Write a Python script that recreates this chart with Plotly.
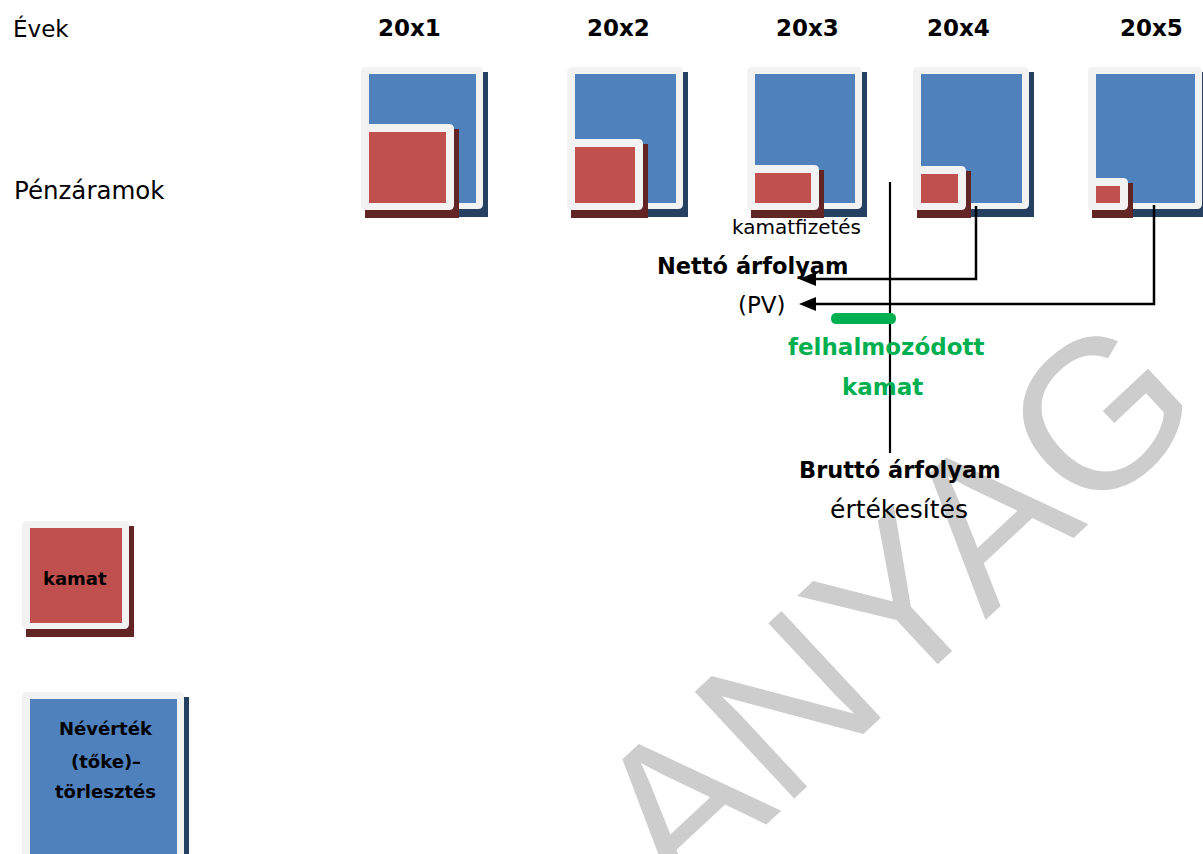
import plotly.graph_objects as go

# Years of the bond's life and the relative size of the interest payment
# drawn in each year's cash-flow box (frame width / height in px).
years = ["20x1", "20x2", "20x3", "20x4", "20x5"]
kamat_w = [93, 76, 72, 53, 40]
kamat_h = [86, 71, 45, 44, 32]

# Layout of the year columns
box_left = [361, 567, 747, 913, 1088]
box_right = [483, 683, 862, 1029, 1202]
label_x = [409, 618, 807, 958, 1151]
BOX_TOP, BOX_BOTTOM = 67, 209

FRAME = "#f2f2f2"
BLUE = "#4f81bd"
BLUE_SH = "#254061"
RED = "#c0504d"
RED_SH = "#632523"
GREEN = "#00b050"
FONT = "DejaVu Sans"

shapes = []


def rrect(x0, y0, x1, y1, r, color):
    path = (f"M {x0 + r},{y0} L {x1 - r},{y0} Q {x1},{y0} {x1},{y0 + r} "
            f"L {x1},{y1 - r} Q {x1},{y1} {x1 - r},{y1} L {x0 + r},{y1} "
            f"Q {x0},{y1} {x0},{y1 - r} L {x0},{y0 + r} Q {x0},{y0} {x0 + r},{y0} Z")
    shapes.append(dict(type="path", path=path, xref="x", yref="y",
                       fillcolor=color, line=dict(width=0), layer="above"))


def rect(x0, y0, x1, y1, color):
    shapes.append(dict(type="rect", x0=x0, y0=y0, x1=x1, y1=y1, xref="x", yref="y",
                       fillcolor=color, line=dict(width=0), layer="above"))


def framed(x0, y0, x1, y1, fill, shadow, inset=(8, 7, 7, 6)):
    rect(x0 + 4, y0 + 5, x1 + 5, y1 + 8, shadow)
    rrect(x0, y0, x1, y1, 5, FRAME)
    l, t, r, b = inset
    rect(x0 + l, y0 + t, x1 - r, y1 - b, fill)


def line(pts, width=2.5, color="black"):
    d = "M " + " L ".join(f"{x},{y}" for x, y in pts)
    shapes.append(dict(type="path", path=d, xref="x", yref="y",
                       line=dict(color=color, width=width), layer="above"))


def arrow_head(x, y):
    d = f"M {x},{y} L {x + 17},{y - 7} L {x + 17},{y + 7} Z"
    shapes.append(dict(type="path", path=d, xref="x", yref="y",
                       fillcolor="black", line=dict(width=0), layer="above"))


# Cash-flow boxes: principal (blue) with the interest share (red) in the corner
for i in range(len(years)):
    x0, x1 = box_left[i], box_right[i]
    framed(x0, BOX_TOP, x1, BOX_BOTTOM, BLUE, BLUE_SH)
    ry0 = BOX_BOTTOM + 1 - kamat_h[i]
    framed(x0, ry0, x0 + kamat_w[i], BOX_BOTTOM + 1, RED, RED_SH, inset=(8, 8, 8, 7))

# Discounting arrows from 20x4 and 20x5 back to the net price
line([(976, 206), (976, 279), (812, 279)])
arrow_head(799, 279)
line([(1154, 205), (1154, 304), (812, 304)])
arrow_head(799, 304)

# Sale date marker
line([(890, 182), (890, 453)], width=2.2)

# Accrued interest bar
rrect(831, 313, 896, 324, 5.5, GREEN)

# Legend boxes
framed(22, 521, 129, 629, RED, RED_SH)
framed(22, 692, 184, 862, BLUE, BLUE_SH)

annotations = []


def text(x, y, s, size, bold=False, color="black", anchor="center"):
    annotations.append(dict(
        x=x, y=y, xref="x", yref="y", text=f"<b>{s}</b>" if bold else s,
        showarrow=False, xanchor=anchor, yanchor="middle",
        font=dict(family=FONT, size=size, color=color)))


# Watermark (kept first so the labels sit on top of it)
annotations.append(dict(
    x=893, y=605, xref="x", yref="y", text="ANYAG", showarrow=False,
    xanchor="center", yanchor="middle", textangle=-43,
    font=dict(family="Liberation Sans", size=212, color="#cdcdcd")))

text(11, 28, "Évek", 23, anchor="left")
text(12, 190, "Pénzáramok", 24.5, anchor="left")
for i, y in enumerate(years):
    text(label_x[i], 28, y, 23, bold=True)

text(796, 227, "kamatfizetés", 20)
text(752, 266, "Nettó árfolyam", 22.5, bold=True)
text(762, 305, "(PV)", 23)
text(886, 347, "felhalmozódott", 23, bold=True, color=GREEN)
text(882, 387, "kamat", 23, bold=True, color=GREEN)
text(900, 470, "Bruttó árfolyam", 22.5, bold=True)
text(899, 509, "értékesítés", 25)

text(75, 578, "kamat", 18, bold=True)
text(106, 728, "Névérték", 18, bold=True)
text(106, 761, "(tőke)–", 18, bold=True)
text(105, 791, "törlesztés", 18, bold=True)

fig = go.Figure()
fig.add_trace(go.Scatter(x=[0, 1203], y=[0, 854], mode="markers",
                         marker=dict(opacity=0), hoverinfo="skip", showlegend=False))
fig.update_layout(
    width=1203, height=854, margin=dict(l=0, r=0, t=0, b=0),
    paper_bgcolor="white", plot_bgcolor="white",
    xaxis=dict(range=[0, 1203], visible=False, fixedrange=True),
    yaxis=dict(range=[854, 0], visible=False, fixedrange=True),
    shapes=shapes, annotations=annotations, showlegend=False,
)
fig.write_html("out.html", config={"displayModeBar": False})
